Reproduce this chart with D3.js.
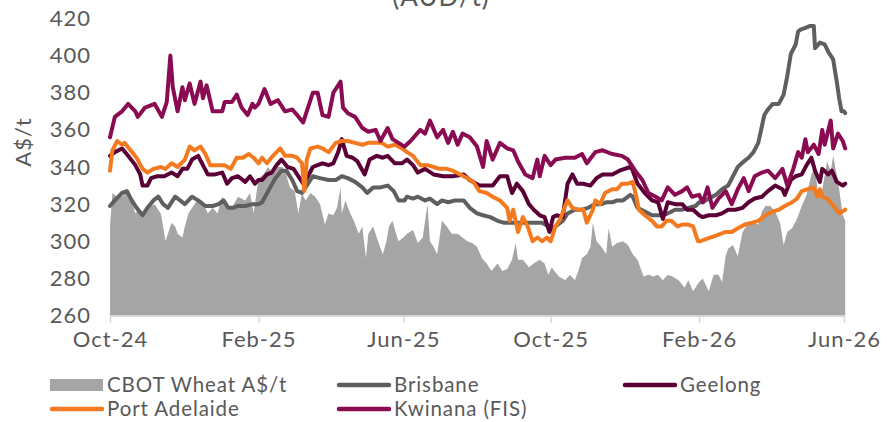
<!DOCTYPE html>
<html>
<head>
<meta charset="utf-8">
<script src="https://cdn.jsdelivr.net/npm/d3@7"></script>
<style>
  body { margin: 0; background: #fff; }
  svg text { font-family: Lato, "Open Sans", sans-serif; fill: #595959; }
</style>
</head>
<body>
<svg id="chart" width="887" height="422"></svg>
<script>
// Port prices vs CBOT wheat (A$/t)

var cbot = [["2024-10-01",308],["2024-10-03",326],["2024-10-07",324],["2024-10-11",324],["2024-10-15",327],["2024-10-19",322],["2024-10-22",315],["2024-10-24",317],["2024-10-28",313],["2024-11-01",318],["2024-11-07",320],["2024-11-12",315],["2024-11-14",308],["2024-11-16",300],["2024-11-18",304],["2024-11-21",310],["2024-11-24",308],["2024-11-26",304],["2024-11-30",302],["2024-12-02",308],["2024-12-05",315],["2024-12-08",318],["2024-12-12",322],["2024-12-16",322],["2024-12-19",318],["2024-12-21",315],["2024-12-25",318],["2024-12-29",315],["2025-01-02",324],["2025-01-06",317],["2025-01-10",318],["2025-01-15",324],["2025-01-21",322],["2025-01-25",326],["2025-01-28",315],["2025-01-31",329],["2025-02-01",334],["2025-02-05",336],["2025-02-09",340],["2025-02-13",336],["2025-02-17",340],["2025-02-21",340],["2025-02-24",336],["2025-02-27",329],["2025-03-03",327],["2025-03-06",315],["2025-03-09",326],["2025-03-12",322],["2025-03-16",326],["2025-03-20",324],["2025-03-24",320],["2025-03-28",309],["2025-03-31",315],["2025-04-04",314],["2025-04-07",318],["2025-04-10",329],["2025-04-11",315],["2025-04-14",322],["2025-04-18",315],["2025-04-21",311],["2025-04-25",304],["2025-04-28",308],["2025-05-01",291],["2025-05-03",304],["2025-05-07",308],["2025-05-11",300],["2025-05-15",293],["2025-05-18",300],["2025-05-20",308],["2025-05-23",311],["2025-05-26",304],["2025-05-28",300],["2025-06-01",302],["2025-06-04",304],["2025-06-09",306],["2025-06-13",299],["2025-06-17",302],["2025-06-21",320],["2025-06-23",300],["2025-06-26",297],["2025-06-29",293],["2025-07-03",311],["2025-07-07",308],["2025-07-11",304],["2025-07-16",304],["2025-07-20",302],["2025-07-24",300],["2025-07-28",299],["2025-08-01",297],["2025-08-05",291],["2025-08-09",288],["2025-08-13",284],["2025-08-18",288],["2025-08-22",284],["2025-08-26",285],["2025-08-30",290],["2025-09-02",299],["2025-09-04",290],["2025-09-08",290],["2025-09-13",286],["2025-09-17",288],["2025-09-22",290],["2025-09-26",288],["2025-09-29",282],["2025-10-02",286],["2025-10-04",284],["2025-10-08",281],["2025-10-13",279],["2025-10-17",282],["2025-10-21",279],["2025-10-24",284],["2025-10-27",291],["2025-10-31",293],["2025-11-03",297],["2025-11-05",310],["2025-11-08",300],["2025-11-12",297],["2025-11-16",293],["2025-11-18",307],["2025-11-21",297],["2025-11-25",299],["2025-11-30",300],["2025-12-04",298],["2025-12-08",293],["2025-12-12",290],["2025-12-17",281],["2025-12-21",282],["2025-12-25",281],["2025-12-29",282],["2026-01-02",279],["2026-01-06",282],["2026-01-10",281],["2026-01-15",279],["2026-01-20",275],["2026-01-23",279],["2026-01-27",273],["2026-02-01",278],["2026-02-04",280],["2026-02-09",273],["2026-02-13",282],["2026-02-17",282],["2026-02-20",278],["2026-02-23",292],["2026-02-25",296],["2026-03-01",298],["2026-03-05",292],["2026-03-09",305],["2026-03-13",309],["2026-03-17",310],["2026-03-22",309],["2026-03-25",316],["2026-03-28",319],["2026-04-01",319],["2026-04-05",316],["2026-04-09",310],["2026-04-12",298],["2026-04-15",305],["2026-04-19",307],["2026-04-23",312],["2026-04-27",319],["2026-05-01",325],["2026-05-05",336],["2026-05-08",341],["2026-05-10",328],["2026-05-14",328],["2026-05-18",343],["2026-05-21",338],["2026-05-23",346],["2026-05-26",336],["2026-05-28",328],["2026-05-31",314],["2026-06-02",311]];

var brisbane = [["2024-10-01",319],["2024-10-05",322],["2024-10-11",326],["2024-10-15",327],["2024-10-19",322],["2024-10-23",318],["2024-10-28",314],["2024-11-01",318],["2024-11-06",322],["2024-11-10",324],["2024-11-14",320],["2024-11-18",318],["2024-11-24",324],["2024-11-28",322],["2024-12-02",320],["2024-12-08",324],["2024-12-13",322],["2024-12-19",319],["2024-12-25",319],["2024-12-30",320],["2025-01-03",322],["2025-01-07",318],["2025-01-11",318],["2025-01-15",319],["2025-01-21",319],["2025-01-27",320],["2025-02-01",320],["2025-02-04",321],["2025-02-09",327],["2025-02-15",334],["2025-02-20",338],["2025-02-24",338],["2025-03-01",333],["2025-03-05",327],["2025-03-09",326],["2025-03-14",331],["2025-03-18",335],["2025-03-24",334],["2025-03-31",333],["2025-04-06",333],["2025-04-11",335],["2025-04-16",334],["2025-04-22",332],["2025-04-28",329],["2025-05-02",326],["2025-05-07",329],["2025-05-13",329],["2025-05-19",330],["2025-05-24",327],["2025-05-28",322],["2025-06-02",322],["2025-06-04",324],["2025-06-09",323],["2025-06-13",324],["2025-06-19",322],["2025-06-23",323],["2025-06-29",320],["2025-07-03",322],["2025-07-08",321],["2025-07-14",322],["2025-07-21",322],["2025-07-26",318],["2025-08-01",315],["2025-08-06",314],["2025-08-12",313],["2025-08-18",311],["2025-08-23",310],["2025-08-28",310],["2025-09-02",310],["2025-09-08",310],["2025-09-13",310],["2025-09-18",310],["2025-09-24",310],["2025-09-29",308],["2025-10-01",306],["2025-10-05",308],["2025-10-11",311],["2025-10-15",315],["2025-10-21",317],["2025-10-27",317],["2025-11-01",318],["2025-11-07",320],["2025-11-12",320],["2025-11-16",321],["2025-11-21",321],["2025-11-25",322],["2025-11-30",322],["2025-12-06",325],["2025-12-08",324],["2025-12-12",318],["2025-12-18",316],["2025-12-24",314],["2025-12-29",314],["2026-01-02",314],["2026-01-06",315],["2026-01-12",317],["2026-01-18",317],["2026-01-23",318],["2026-01-29",319],["2026-02-01",321],["2026-02-04",321],["2026-02-09",323],["2026-02-15",325],["2026-02-20",328],["2026-02-25",330],["2026-03-01",335],["2026-03-05",340],["2026-03-10",343],["2026-03-14",345],["2026-03-18",348],["2026-03-22",353],["2026-03-24",359],["2026-03-27",368],["2026-03-30",371],["2026-04-03",374],["2026-04-08",374],["2026-04-12",379],["2026-04-15",389],["2026-04-18",401],["2026-04-22",406],["2026-04-24",413],["2026-04-26",414],["2026-04-30",415],["2026-05-04",416],["2026-05-07",416],["2026-05-08",404],["2026-05-12",407],["2026-05-16",406],["2026-05-19",402],["2026-05-23",398],["2026-05-26",386],["2026-05-28",377],["2026-05-30",370],["2026-06-01",370],["2026-06-02",369]];

var geelong = [["2024-10-01",346],["2024-10-05",348],["2024-10-11",350],["2024-10-16",346],["2024-10-22",341],["2024-10-26",336],["2024-10-28",330],["2024-11-01",330],["2024-11-04",334],["2024-11-09",335],["2024-11-15",335],["2024-11-21",337],["2024-11-26",335],["2024-11-30",339],["2024-12-04",339],["2024-12-08",344],["2024-12-13",346],["2024-12-17",341],["2024-12-21",336],["2024-12-27",336],["2025-01-02",337],["2025-01-06",331],["2025-01-10",334],["2025-01-15",335],["2025-01-21",332],["2025-01-25",335],["2025-01-29",331],["2025-02-01",333],["2025-02-04",333],["2025-02-08",336],["2025-02-12",337],["2025-02-16",341],["2025-02-20",344],["2025-02-25",340],["2025-03-02",339],["2025-03-06",335],["2025-03-10",331],["2025-03-14",335],["2025-03-18",340],["2025-03-22",341],["2025-03-26",342],["2025-03-31",341],["2025-04-04",342],["2025-04-08",348],["2025-04-11",355],["2025-04-15",346],["2025-04-20",345],["2025-04-24",343],["2025-04-30",336],["2025-05-04",344],["2025-05-10",346],["2025-05-15",345],["2025-05-19",346],["2025-05-25",342],["2025-05-31",342],["2025-06-04",344],["2025-06-09",341],["2025-06-13",337],["2025-06-19",339],["2025-06-26",336],["2025-07-04",335],["2025-07-12",335],["2025-07-21",336],["2025-07-26",333],["2025-08-03",330],["2025-08-09",330],["2025-08-14",330],["2025-08-20",335],["2025-08-26",335],["2025-08-30",326],["2025-09-03",331],["2025-09-08",327],["2025-09-13",320],["2025-09-17",317],["2025-09-22",314],["2025-09-26",313],["2025-09-30",305],["2025-10-03",313],["2025-10-06",314],["2025-10-11",313],["2025-10-15",331],["2025-10-19",336],["2025-10-23",331],["2025-10-28",331],["2025-11-03",330],["2025-11-08",334],["2025-11-13",336],["2025-11-21",336],["2025-11-27",338],["2025-12-06",340],["2025-12-08",338],["2025-12-12",331],["2025-12-18",326],["2025-12-24",322],["2025-12-29",321],["2026-01-02",312],["2026-01-06",321],["2026-01-12",320],["2026-01-18",320],["2026-01-22",317],["2026-01-27",317],["2026-02-01",314],["2026-02-04",313],["2026-02-09",314],["2026-02-15",314],["2026-02-20",315],["2026-02-25",317],["2026-03-03",317],["2026-03-09",318],["2026-03-14",321],["2026-03-19",323],["2026-03-25",324],["2026-03-30",327],["2026-04-05",330],["2026-04-11",328],["2026-04-13",325],["2026-04-18",333],["2026-04-22",335],["2026-04-27",336],["2026-05-01",341],["2026-05-05",345],["2026-05-08",338],["2026-05-12",332],["2026-05-14",339],["2026-05-19",336],["2026-05-22",338],["2026-05-26",332],["2026-05-31",330],["2026-06-02",331]];

var portAdelaide = [["2024-10-01",338],["2024-10-03",349],["2024-10-07",354],["2024-10-11",352],["2024-10-13",353],["2024-10-18",349],["2024-10-23",345],["2024-10-28",339],["2024-11-01",337],["2024-11-06",339],["2024-11-12",340],["2024-11-16",339],["2024-11-21",342],["2024-11-26",340],["2024-12-02",344],["2024-12-06",351],["2024-12-10",349],["2024-12-15",351],["2024-12-19",347],["2024-12-23",341],["2024-12-30",341],["2025-01-04",341],["2025-01-09",339],["2025-01-14",345],["2025-01-19",345],["2025-01-24",347],["2025-01-28",345],["2025-02-01",342],["2025-02-04",345],["2025-02-08",342],["2025-02-13",346],["2025-02-19",350],["2025-02-23",346],["2025-03-01",346],["2025-03-05",345],["2025-03-09",342],["2025-03-11",327],["2025-03-13",344],["2025-03-16",350],["2025-03-22",351],["2025-03-26",350],["2025-03-31",348],["2025-04-06",353],["2025-04-11",354],["2025-04-16",354],["2025-04-22",353],["2025-04-28",352],["2025-05-03",353],["2025-05-09",353],["2025-05-14",353],["2025-05-19",351],["2025-05-25",352],["2025-05-31",350],["2025-06-04",348],["2025-06-09",346],["2025-06-15",341],["2025-06-21",341],["2025-06-26",340],["2025-07-01",339],["2025-07-07",339],["2025-07-12",338],["2025-07-18",336],["2025-07-24",334],["2025-07-29",332],["2025-08-03",327],["2025-08-09",326],["2025-08-14",324],["2025-08-20",322],["2025-08-26",318],["2025-08-28",311],["2025-08-31",317],["2025-09-04",305],["2025-09-08",313],["2025-09-12",308],["2025-09-16",300],["2025-09-20",302],["2025-09-24",300],["2025-09-28",302],["2025-10-01",300],["2025-10-05",308],["2025-10-09",312],["2025-10-13",319],["2025-10-15",322],["2025-10-19",318],["2025-10-24",317],["2025-10-28",317],["2025-10-31",310],["2025-11-05",317],["2025-11-07",322],["2025-11-11",320],["2025-11-15",326],["2025-11-21",328],["2025-11-25",328],["2025-11-29",331],["2025-12-04",331],["2025-12-08",332],["2025-12-11",324],["2025-12-13",317],["2025-12-18",314],["2025-12-24",311],["2025-12-28",308],["2026-01-01",308],["2026-01-05",311],["2026-01-09",311],["2026-01-14",308],["2026-01-18",309],["2026-01-23",309],["2026-01-27",308],["2026-01-31",300],["2026-02-02",300],["2026-02-06",301],["2026-02-15",303],["2026-02-23",305],["2026-02-28",305],["2026-03-05",307],["2026-03-11",309],["2026-03-17",310],["2026-03-22",311],["2026-03-28",314],["2026-04-03",316],["2026-04-08",317],["2026-04-13",319],["2026-04-19",321],["2026-04-23",323],["2026-04-27",327],["2026-05-02",328],["2026-05-07",329],["2026-05-10",324],["2026-05-12",328],["2026-05-14",324],["2026-05-18",323],["2026-05-22",320],["2026-05-26",317],["2026-05-28",315],["2026-06-02",317]];

var kwinana = [["2024-10-01",356],["2024-10-05",367],["2024-10-11",370],["2024-10-16",374],["2024-10-22",370],["2024-10-24",367],["2024-10-30",372],["2024-11-07",374],["2024-11-13",367],["2024-11-17",375],["2024-11-20",400],["2024-11-22",383],["2024-11-26",370],["2024-11-30",383],["2024-12-02",376],["2024-12-06",385],["2024-12-10",374],["2024-12-15",386],["2024-12-17",377],["2024-12-20",384],["2024-12-25",370],["2025-01-02",370],["2025-01-04",375],["2025-01-10",375],["2025-01-14",379],["2025-01-18",372],["2025-01-23",368],["2025-01-27",374],["2025-01-29",372],["2025-02-01",374],["2025-02-06",382],["2025-02-11",374],["2025-02-17",376],["2025-02-23",370],["2025-03-01",371],["2025-03-05",368],["2025-03-10",364],["2025-03-14",372],["2025-03-18",380],["2025-03-22",380],["2025-03-26",368],["2025-03-31",367],["2025-04-04",380],["2025-04-10",386],["2025-04-12",372],["2025-04-16",369],["2025-04-22",367],["2025-04-28",361],["2025-05-03",359],["2025-05-09",360],["2025-05-13",354],["2025-05-19",361],["2025-05-23",355],["2025-05-28",353],["2025-06-02",351],["2025-06-07",354],["2025-06-15",360],["2025-06-19",358],["2025-06-23",365],["2025-06-29",356],["2025-07-04",360],["2025-07-08",353],["2025-07-12",359],["2025-07-16",352],["2025-07-20",358],["2025-07-26",356],["2025-08-01",351],["2025-08-06",340],["2025-08-09",354],["2025-08-14",344],["2025-08-20",353],["2025-08-26",350],["2025-08-31",349],["2025-09-04",343],["2025-09-10",336],["2025-09-16",334],["2025-09-20",344],["2025-09-22",335],["2025-09-26",346],["2025-10-01",341],["2025-10-05",344],["2025-10-13",345],["2025-10-21",345],["2025-10-27",347],["2025-10-31",342],["2025-11-07",348],["2025-11-13",349],["2025-11-21",347],["2025-11-29",346],["2025-12-04",344],["2025-12-10",338],["2025-12-16",333],["2025-12-21",326],["2025-12-27",324],["2026-01-01",322],["2026-01-06",329],["2026-01-12",325],["2026-01-18",327],["2026-01-22",329],["2026-01-26",324],["2026-02-01",325],["2026-02-04",321],["2026-02-08",329],["2026-02-12",318],["2026-02-17",323],["2026-02-23",327],["2026-02-28",320],["2026-03-05",328],["2026-03-10",334],["2026-03-14",327],["2026-03-19",335],["2026-03-25",337],["2026-03-30",338],["2026-04-05",334],["2026-04-11",339],["2026-04-15",330],["2026-04-20",339],["2026-04-24",348],["2026-04-27",345],["2026-04-30",355],["2026-05-02",348],["2026-05-07",352],["2026-05-11",347],["2026-05-14",360],["2026-05-16",352],["2026-05-21",365],["2026-05-23",350],["2026-05-27",358],["2026-05-31",354],["2026-06-02",350]];

var yTicks = [260, 280, 300, 320, 340, 360, 380, 400, 420];
var xTicks = ["2024-10-01", "2025-02-01", "2025-06-01", "2025-10-01", "2026-02-01", "2026-06-01"];

var parseDate = d3.timeParse("%Y-%m-%d");

var svg = d3.select("#chart");

var xScale = d3.scaleTime()
  .domain([parseDate("2024-10-01"), parseDate("2026-06-01")])
  .range([110, 844]);

var yScale = d3.scaleLinear()
  .domain([260, 420])
  .range([315.5, 18.5]);

// title, its top is cut off by the frame as in the original
svg.append("text")
  .attr("x", 441).attr("y", 6)
  .attr("text-anchor", "middle")
  .style("font-size", "26px")
  .style("letter-spacing", "1px")
  .text("(AUD/t)");

// CBOT area
var area = d3.area()
  .x(function(d) { return xScale(parseDate(d[0])); })
  .y0(yScale(260))
  .y1(function(d) { return yScale(d[1]); });

svg.append("path")
  .datum(cbot)
  .attr("d", area)
  .attr("fill", "#a5a5a5");

// x axis
var xAxis = d3.axisBottom(xScale)
  .tickValues(xTicks.map(parseDate))
  .tickFormat(d3.timeFormat("%b-%y"))
  .tickSize(7)
  .tickSizeOuter(0)
  .tickPadding(8);

var gx = svg.append("g")
  .attr("transform", "translate(0,316)")
  .call(xAxis);
gx.select(".domain").attr("stroke", "#d9d9d9").attr("stroke-width", 1.5);
gx.selectAll(".tick line").attr("stroke", "#d9d9d9").attr("stroke-width", 1.5);
gx.selectAll(".tick text")
  .style("font-size", "22px")
  .style("letter-spacing", "1px")
  .attr("fill", "#595959");

// y axis
var yAxis = d3.axisLeft(yScale)
  .tickValues(yTicks)
  .tickSize(0)
  .tickPadding(19)
  .tickFormat(function(d) { return d; });

var gy = svg.append("g")
  .attr("transform", "translate(110,0)")
  .call(yAxis);
gy.select(".domain").remove();
gy.selectAll(".tick text")
  .style("font-size", "22px")
  .style("letter-spacing", "1px")
  .attr("fill", "#595959");

svg.append("text")
  .attr("transform", "translate(31,142) rotate(-90)")
  .attr("text-anchor", "middle")
  .style("font-size", "22px")
  .style("letter-spacing", "1px")
  .text("A$/t");

// port lines
var line = d3.line()
  .x(function(d) { return xScale(parseDate(d[0])); })
  .y(function(d) { return yScale(d[1]); });

var ports = [
  { name: "Brisbane", data: brisbane, colour: "#5f5f5f" },
  { name: "Geelong", data: geelong, colour: "#5a0036" },
  { name: "Port Adelaide", data: portAdelaide, colour: "#f47a20" },
  { name: "Kwinana (FIS)", data: kwinana, colour: "#8a0b52" }
];

svg.selectAll(".port")
  .data(ports)
  .enter()
  .append("path")
  .attr("class", "port")
  .attr("d", function(d) { return line(d.data); })
  .attr("fill", "none")
  .attr("stroke", function(d) { return d.colour; })
  .attr("stroke-width", 4)
  .attr("stroke-linejoin", "round")
  .attr("stroke-linecap", "round");

// legend
var legend = [
  { name: "CBOT Wheat A$/t", colour: "#a5a5a5", type: "rect", x: 50, y: 385 },
  { name: "Brisbane", colour: "#5f5f5f", type: "line", x: 337, y: 385 },
  { name: "Geelong", colour: "#5a0036", type: "line", x: 623, y: 385 },
  { name: "Port Adelaide", colour: "#f47a20", type: "line", x: 50, y: 409 },
  { name: "Kwinana (FIS)", colour: "#8a0b52", type: "line", x: 337, y: 409 }
];

var items = svg.selectAll(".legend")
  .data(legend)
  .enter()
  .append("g")
  .attr("class", "legend")
  .attr("transform", function(d) { return `translate(${d.x},${d.y})`; });

items.filter(function(d) { return d.type == "rect"; })
  .append("rect")
  .attr("x", 0).attr("y", -6)
  .attr("width", 53).attr("height", 12)
  .attr("fill", function(d) { return d.colour; });

items.filter(function(d) { return d.type == "line"; })
  .append("line")
  .attr("x1", 2).attr("x2", 52)
  .attr("y1", 0).attr("y2", 0)
  .attr("stroke", function(d) { return d.colour; })
  .attr("stroke-width", 4.5)
  .attr("stroke-linecap", "round");

items.append("text")
  .attr("x", 57).attr("y", 0)
  .attr("dy", "0.35em")
  .style("font-size", "20.5px")
  .style("letter-spacing", "0.9px")
  .text(function(d) { return d.name; });
</script>
</body>
</html>
